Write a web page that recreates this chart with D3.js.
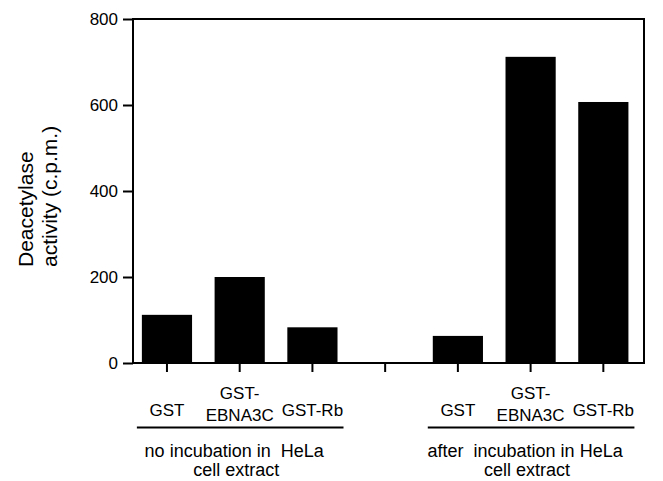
<!DOCTYPE html>
<html>
<head>
<meta charset="utf-8">
<script src="https://cdn.jsdelivr.net/npm/d3@7/dist/d3.min.js"></script>
<style>
  html, body { margin: 0; padding: 0; background: #fff; }
  svg { display: block; font-family: "Liberation Sans", Arial, Helvetica, sans-serif; }
  text { fill: #000; }
</style>
</head>
<body>
<svg id="chart" width="663" height="481"></svg>
<script>
// ---- data ----
const slots = ["nGST", "nEBNA3C", "nRb", "gap", "aGST", "aEBNA3C", "aRb"];
const categoryLabels = [["GST"], ["GST-", "EBNA3C"], ["GST-Rb"], [], ["GST"], ["GST-", "EBNA3C"], ["GST-Rb"]];
const values = [112, 200, 83, null, 63, 712, 607];
const yTicks = [0, 200, 400, 600, 800];
const groupLabels = [["no incubation in  HeLa", "cell extract"], ["after  incubation in HeLa", "cell extract"]];
const groupSlots = [["nGST", "nRb"], ["aGST", "aRb"]];
const yLabelLines = ["Deacetylase", "activity (c.p.m.)"];

// ---- layout ----
const svg = d3.select("#chart");
const plotLeft = 133, plotRight = 644, plotTop = 19, plotBottom = 363;

const x = d3.scaleBand().domain(slots).range([130.6, 639.7]).paddingInner(0.31).paddingOuter(0.155);
const y = d3.scaleLinear().domain([0, 800]).range([plotBottom, plotTop]);

// bars
svg.append("g").selectAll("rect")
  .data(slots.map((s, i) => ({ s, v: values[i] })).filter(d => d.v != null))
  .join("rect")
  .attr("x", d => x(d.s))
  .attr("width", x.bandwidth())
  .attr("y", d => y(d.v))
  .attr("height", d => y(0) - y(d.v))
  .attr("fill", "#000");

// frame
svg.append("rect")
  .attr("x", plotLeft).attr("y", y(800))
  .attr("width", plotRight - plotLeft).attr("height", y(0) - y(800))
  .attr("fill", "none").attr("stroke", "#000").attr("stroke-width", 2);

// y axis
const yAxis = svg.append("g").attr("transform", `translate(${plotLeft},0)`)
  .call(d3.axisLeft(y).tickValues(yTicks).tickSize(10).tickPadding(5).tickFormat(d3.format("d")));
yAxis.select(".domain").remove();
yAxis.selectAll(".tick line").attr("stroke", "#000").attr("stroke-width", 2);
yAxis.selectAll(".tick text").attr("font-size", 17).attr("font-family", "Liberation Sans, Arial, sans-serif").attr("fill", "#000");

// x axis ticks
const xAxis = svg.append("g").attr("transform", `translate(0,${plotBottom})`)
  .call(d3.axisBottom(x).tickSize(9).tickFormat(""));
xAxis.select(".domain").remove();
xAxis.selectAll(".tick line").attr("stroke", "#000").attr("stroke-width", 2);

// category labels
const catG = svg.append("g").attr("font-size", 17).attr("text-anchor", "middle");
slots.forEach((s, i) => {
  const lines = categoryLabels[i];
  const cx = x(s) + x.bandwidth() / 2;
  if (lines.length === 1) {
    catG.append("text").attr("x", cx).attr("y", 416).text(lines[0]);
  } else if (lines.length === 2) {
    catG.append("text").attr("x", cx).attr("y", 399).text(lines[0]);
    catG.append("text").attr("x", cx).attr("y", 421).text(lines[1]);
  }
});

// group underlines and labels
groupSlots.forEach((g, i) => {
  const x0 = x(g[0]) - 5, x1 = x(g[1]) + x.bandwidth() + 6;
  svg.append("line").attr("x1", x0).attr("x2", x1).attr("y1", 427.5).attr("y2", 427.5)
    .attr("stroke", "#000").attr("stroke-width", 2);
  const cx = (x0 + x1) / 2;
  const t = svg.append("g").attr("font-size", 18).attr("text-anchor", "middle");
  t.append("text").attr("x", cx - 6).attr("y", 457).style("white-space", "pre").text(groupLabels[i][0]);
  t.append("text").attr("x", cx - 4).attr("y", 476).text(groupLabels[i][1]);
});

// y label
yLabelLines.forEach((l, i) => {
  svg.append("text")
    .attr("transform", `translate(${33 + i * 24},267) rotate(-90)`)
    .attr("font-size", 21)
    .attr("text-anchor", "start")
    .text(l);
});
</script>
</body>
</html>
